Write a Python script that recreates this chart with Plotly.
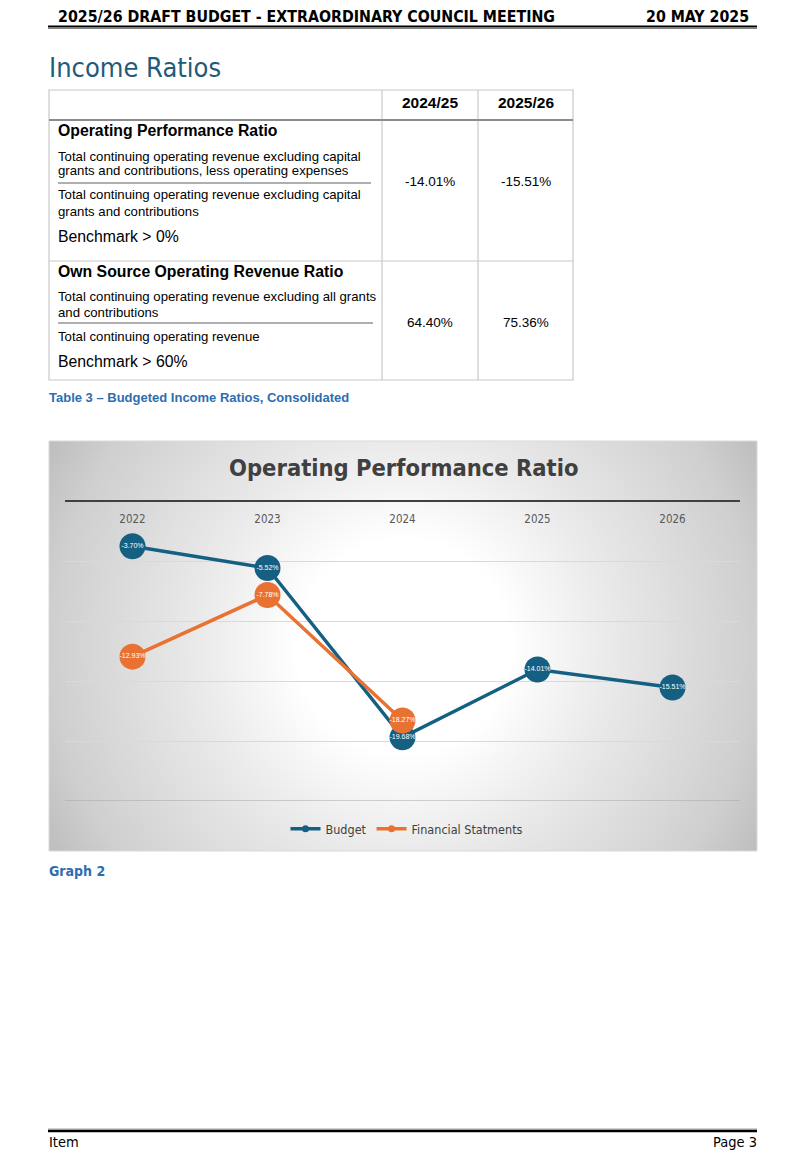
import numpy as np
import plotly.graph_objects as go

# page offset of the plot inside the browser page (body margin)
OFF = 8
PW, PH = 806, 1167
W, H = PW - OFF, PH - OFF

# ---------------- data ----------------
years = ["2022", "2023", "2024", "2025", "2026"]
budget = [-3.70, -5.52, -19.68, -14.01, -15.51]
fs_years = ["2022", "2023", "2024"]
financial_statements = [-12.93, -7.78, -18.27]

table_cols = ["2024/25", "2025/26"]
opr_values = ["-14.01%", "-15.51%"]
osr_values = ["64.40%", "75.36%"]

BLUE = "#156082"
ORANGE = "#E97132"
NARROW = "Liberation Sans Narrow, DejaVu Sans Condensed, Arial"


def X(px):
    return (px - OFF) / W


def Y(py):
    return 1 - (py - OFF) / H


fig = go.Figure()

# ---------- background gradient for chart box (on first axes, underneath) ----------
bx0, by0, bx1, by1 = 49, 441, 757, 851
gw, gh = bx1 - bx0, by1 - by0
gx = np.linspace(0, gw, 90)
gy = np.linspace(0, gh, 60)
GX, GY = np.meshgrid(gx, gy)
dist = np.sqrt((GX - gw / 2) ** 2 + (GY - gh / 2) ** 2)
fig.add_trace(go.Heatmap(
    x=gx, y=gy, z=dist, zmin=0, zmax=410, zsmooth="best", showscale=False,
    hoverinfo="skip",
    colorscale=[[0, "#ffffff"], [0.26, "#ffffff"], [0.5, "#eaeaea"],
                [0.86, "#cfcfcf"], [1, "#bdbdbd"]],
    xaxis="x", yaxis="y",
))

# ---------- line chart ----------
fig.add_trace(go.Scatter(
    x=years, y=budget, mode="lines+markers+text", name="Budget",
    line=dict(color=BLUE, width=3.5), marker=dict(size=26, color=BLUE),
    texttemplate="%{y:.2f}%", textposition="middle center",
    textfont=dict(family="Arial", size=7, color="white"),
    showlegend=False, xaxis="x2", yaxis="y2", cliponaxis=False,
))
fig.add_trace(go.Scatter(
    x=fs_years, y=financial_statements, mode="lines+markers+text",
    name="Financial Statments",
    line=dict(color=ORANGE, width=3.5), marker=dict(size=26, color=ORANGE),
    texttemplate="%{y:.2f}%", textposition="middle center",
    textfont=dict(family="Arial", size=7, color="white"),
    showlegend=False, xaxis="x2", yaxis="y2", cliponaxis=False,
))
# legend-only entries
for nm, col in [("Budget", BLUE), ("Financial Statments", ORANGE)]:
    fig.add_trace(go.Scatter(
        x=[None], y=[None], mode="lines+markers", name=nm,
        line=dict(color=col, width=3.5), marker=dict(size=7, color=col),
        xaxis="x2", yaxis="y2",
    ))

shapes = []
ann = []


def hline(x0, x1, y, color="#000000", width=1):
    shapes.append(dict(type="line", xref="paper", yref="paper",
                       x0=X(x0), x1=X(x1), y0=Y(y), y1=Y(y),
                       line=dict(color=color, width=width)))


def vline(x, y0, y1, color="#000000", width=1):
    shapes.append(dict(type="line", xref="paper", yref="paper",
                       x0=X(x), x1=X(x), y0=Y(y0), y1=Y(y1),
                       line=dict(color=color, width=width)))


def text(x, y, s, size=12, color="#000000", bold=False, anchor="left",
         family="Arial"):
    if bold:
        s = "<b>" + s + "</b>"
    if anchor == "left":
        x -= 2
    elif anchor == "right":
        x += 2
    ann.append(dict(xref="paper", yref="paper", x=X(x), y=Y(y), text=s,
                    showarrow=False, xanchor=anchor, yanchor="middle",
                    font=dict(size=size, color=color, family=family)))


# ---------- header ----------
text(58, 17, "2025/26 DRAFT BUDGET - EXTRAORDINARY COUNCIL MEETING", size=15.8,
     bold=True, family=NARROW)
text(749, 17, "20 MAY 2025", size=15.8, bold=True, anchor="right", family=NARROW)
hline(48, 757, 26.5, "#000000", 2)
hline(48, 757, 28.5, "#7f7f7f", 1)

text(49, 68, "Income Ratios", size=27, color="#1F5B7A", family=NARROW)

# ---------- table ----------
tl, tr, tt, tb = 49, 573, 90, 380
c1, c2 = 382, 478
bc = "#c8c8c8"
shapes.append(dict(type="rect", xref="paper", yref="paper",
                   x0=X(tl), x1=X(tr), y0=Y(tb), y1=Y(tt),
                   line=dict(color=bc, width=1.2)))
vline(c1, tt, tb, bc, 1.2)
vline(c2, tt, tb, bc, 1.2)
hline(tl, tr, 120, "#8c8c8c", 2)
hline(tl, tr, 261, bc, 1.2)

text((c1 + c2) / 2, 103, table_cols[0], size=15.5, bold=True, anchor="center")
text((c2 + tr) / 2, 103, table_cols[1], size=15.5, bold=True, anchor="center")

text(58, 131, "Operating Performance Ratio", size=15.8, bold=True)
text(58, 156, "Total continuing operating revenue excluding capital", size=13.2)
text(58, 171, "grants and contributions, less operating expenses", size=13.2)
hline(58, 371, 183, "#606060", 1.2)
text(58, 195, "Total continuing operating revenue excluding capital", size=13.2)
text(58, 211, "grants and contributions", size=13.2)
text(58, 237, "Benchmark &gt; 0%", size=15.8)
text((c1 + c2) / 2, 182, opr_values[0], size=13.5, anchor="center")
text((c2 + tr) / 2, 182, opr_values[1], size=13.5, anchor="center")

text(58, 271, "Own Source Operating Revenue Ratio", size=15.8, bold=True)
text(58, 297, "Total continuing operating revenue excluding all grants", size=13.2)
text(58, 312, "and contributions", size=13.2)
hline(58, 373, 323, "#606060", 1.2)
text(58, 336, "Total continuing operating revenue", size=13.2)
text(58, 361, "Benchmark &gt; 60%", size=15.8)
text((c1 + c2) / 2, 322, osr_values[0], size=13.5, anchor="center")
text((c2 + tr) / 2, 322, osr_values[1], size=13.5, anchor="center")

text(49, 397, "Table 3 – Budgeted Income Ratios, Consolidated", size=13,
     color="#2E6DB0", bold=True)

# ---------- chart box ----------
shapes.append(dict(type="rect", xref="paper", yref="paper",
                   x0=X(bx0), x1=X(bx1), y0=Y(by1), y1=Y(by0),
                   line=dict(color="#d9d9d9", width=1), layer="above"))
text(403, 468, "Operating Performance Ratio", size=23.5, color="#404040",
     bold=True, anchor="center", family=NARROW)
# bottom boundary line of plot area at -25
shapes.append(dict(type="line", xref="x2 domain", yref="y2", x0=0, x1=1,
                   y0=-25, y1=-25, line=dict(color="#a6a6a6", width=1.2)))

text(49, 871, "Graph 2", size=14, color="#2E6DB0", bold=True, family=NARROW)

# ---------- footer ----------
hline(48, 757, 1129, "#a0a0a0", 1)
hline(48, 757, 1131, "#000000", 2.5)
text(49, 1142, "Item", size=14.5, family=NARROW)
text(757, 1142, "Page 3", size=14.5, anchor="right", family=NARROW)

fig.update_layout(
    width=W, height=H, margin=dict(l=0, r=0, t=0, b=0),
    paper_bgcolor="white", plot_bgcolor="rgba(0,0,0,0)",
    font=dict(family="Roboto", color="#404040"),
    shapes=shapes, annotations=ann,
    xaxis=dict(domain=[X(bx0), X(bx1)], range=[0, gw], visible=False,
               fixedrange=True),
    yaxis=dict(domain=[Y(by1), Y(by0)], range=[gh, 0], visible=False,
               fixedrange=True),
    xaxis2=dict(domain=[X(65), X(740)], anchor="y2", type="category",
                categoryorder="array", categoryarray=years,
                range=[-0.5, 4.5], side="top", showline=True,
                linecolor="#404040", linewidth=2, ticks="",
                ticklabelposition="inside", ticklabelstandoff=12,
                tickfont=dict(size=11.5, color="#595959", family=NARROW),
                showgrid=False, zeroline=False),
    yaxis2=dict(domain=[Y(801), Y(502)], anchor="x2", range=[-25, 0],
                dtick=5, showticklabels=False, ticks="",
                gridcolor="#d9d9d9", gridwidth=1, zeroline=False),
    legend=dict(orientation="h", x=0.5, xanchor="center", y=Y(829),
                yanchor="middle", bgcolor="rgba(0,0,0,0)",
                font=dict(size=12.5, color="#404040", family=NARROW),
                itemwidth=30, tracegroupgap=0),
)

fig.write_html("out.html")
